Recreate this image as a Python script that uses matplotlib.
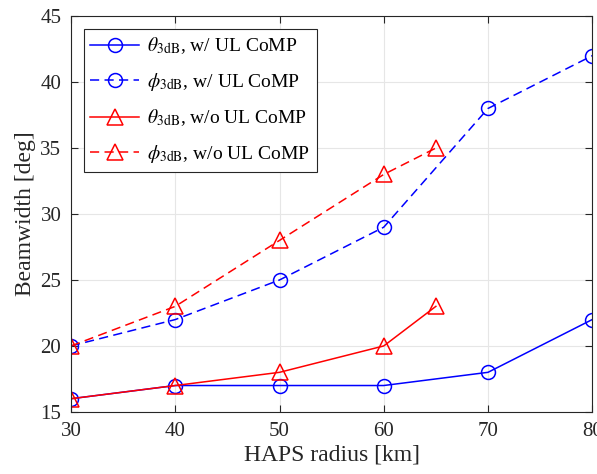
import matplotlib.pyplot as plt

plt.rcParams["font.family"] = ["Liberation Serif", "DejaVu Serif"]
plt.rcParams["mathtext.fontset"] = "stix"

radius_with = [30, 40, 50, 60, 70, 80]
theta_with = [16, 17, 17, 17, 18, 22]
phi_with = [20, 22, 25, 29, 38, 42]

radius_without = [30, 40, 50, 60, 65]
theta_without = [16, 17, 18, 20, 23]
phi_without = [20, 23, 28, 33, 35]

fig = plt.figure(figsize=(5.97, 4.74), dpi=100)
ax = fig.add_axes([0.119, 0.131, 0.873, 0.835])

dash = (6, 3.5)
ax.plot(radius_with, theta_with, "-", color="blue", marker="o", ms=10, mfc="none",
        mew=1.1, lw=1.1, label=r"$\theta_{\rm 3dB}$, w/ UL CoMP")
ax.plot(radius_with, phi_with, "--", dashes=dash, color="blue", marker="o", ms=10, mfc="none",
        mew=1.1, lw=1.1, label=r"$\phi_{\rm 3dB}$, w/ UL CoMP")
ax.plot(radius_without, theta_without, "-", color="red", marker="^", ms=11, mfc="none",
        mew=1.1, lw=1.1, label=r"$\theta_{\rm 3dB}$, w/o UL CoMP")
ax.plot(radius_without, phi_without, "--", dashes=dash, color="red", marker="^", ms=11, mfc="none",
        mew=1.1, lw=1.1, label=r"$\phi_{\rm 3dB}$, w/o UL CoMP")

ax.set_xlim(30, 80)
ax.set_ylim(15, 45)
ax.set_xticks([30, 40, 50, 60, 70, 80])
ax.set_yticks([15, 20, 25, 30, 35, 40, 45])
ax.grid(True, color="#e6e6e6", lw=0.8)
ax.set_axisbelow(True)
ax.tick_params(direction="in", top=True, right=True, labelsize=15, colors="#262626",
               length=5, width=0.8, pad=7)
for s in ax.spines.values():
    s.set_color("#262626")
    s.set_linewidth(0.8)

ax.set_xlabel("HAPS radius [km]", fontsize=17, color="#262626", labelpad=3)
ax.set_ylabel("Beamwidth [deg]", fontsize=17, color="#262626", labelpad=3)

leg = ax.legend(loc="upper left", fontsize=14, fancybox=False, edgecolor="#262626",
                framealpha=1, handlelength=2.5, borderaxespad=0.65, labelspacing=0.75,
                handletextpad=0.4, borderpad=0.35)
leg.get_frame().set_linewidth(0.8)

fig.savefig("out.png", dpi=100)
